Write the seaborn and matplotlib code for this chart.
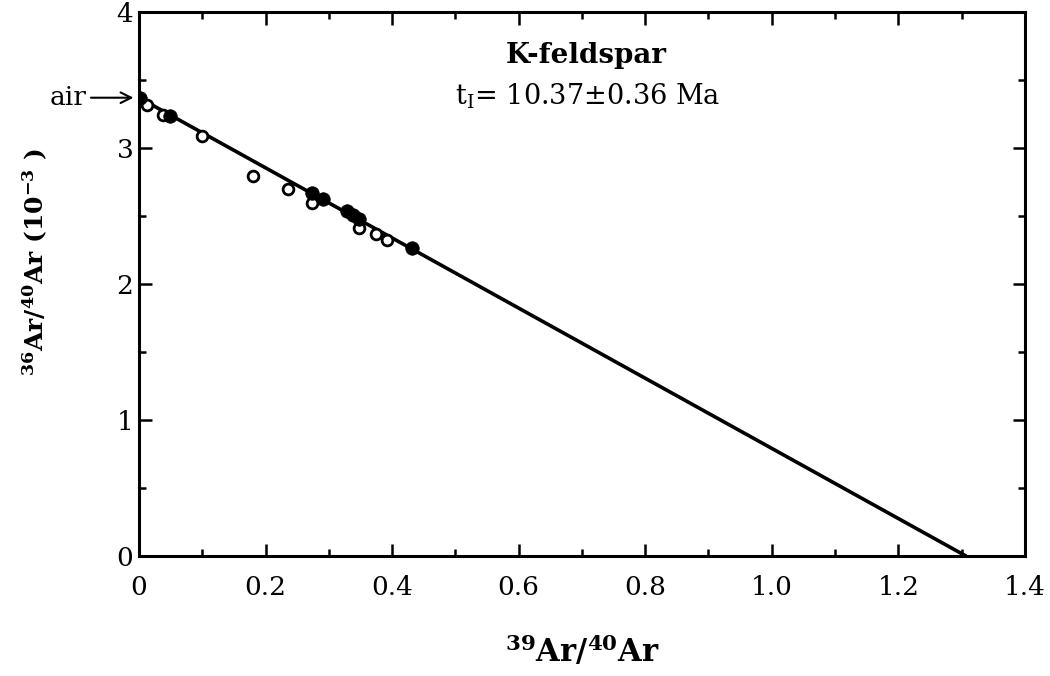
import numpy as np
import pandas as pd
import matplotlib
matplotlib.use("Agg")
import matplotlib.pyplot as plt
import seaborn as sns

# filled circles (39Ar/40Ar, 36Ar/40Ar x 1e-3)
filled_x = [0.002, 0.049, 0.273, 0.291, 0.328, 0.338, 0.347, 0.431]
filled_y = [3.367, 3.238, 2.671, 2.622, 2.537, 2.505, 2.476, 2.268]
# open circles
open_x = [0.012, 0.038, 0.099, 0.180, 0.236, 0.273, 0.347, 0.375, 0.392]
open_y = [3.314, 3.245, 3.086, 2.793, 2.700, 2.597, 2.414, 2.370, 2.322]
# isochron: y-intercept (air) and x-intercept
fit_x = [0.0, 1.307]
fit_y = [3.37, 0.0]

sns.set_theme(style="ticks")
plt.rcParams["font.family"] = ["DejaVu Serif"]
plt.rcParams["mathtext.fontset"] = "dejavuserif"
plt.rcParams["mathtext.default"] = "bf"
plt.rcParams["text.color"] = "black"
plt.rcParams["axes.labelcolor"] = "black"

fig = plt.figure(figsize=(10.5, 6.76), dpi=100)
ax = fig.add_axes([0.1324, 0.1775, 0.8436, 0.8047])

fit = pd.DataFrame({"x": fit_x, "y": fit_y})
sns.lineplot(data=fit, x="x", y="y", color="black", lw=2.6, ax=ax)

filled = pd.DataFrame({"x": filled_x, "y": filled_y})
opn = pd.DataFrame({"x": open_x, "y": open_y})
sns.scatterplot(data=opn, x="x", y="y", s=60, facecolor="white",
                edgecolor="black", linewidth=2.0, ax=ax, zorder=3)
sns.scatterplot(data=filled, x="x", y="y", s=95, color="black",
                edgecolor="black", linewidth=0.5, ax=ax, zorder=4)

ax.set_xlim(0, 1.4)
ax.set_ylim(0, 4)
ax.set_xticks([0, 0.2, 0.4, 0.6, 0.8, 1.0, 1.2, 1.4])
ax.set_xticklabels(["0", "0.2", "0.4", "0.6", "0.8", "1.0", "1.2", "1.4"])
ax.set_yticks([0, 1, 2, 3, 4])
ax.set_xticks(np.arange(0.1, 1.4, 0.2), minor=True)
ax.set_yticks([0.5, 1.5, 2.5, 3.5], minor=True)
ax.tick_params(which="both", direction="in", top=True, right=True,
               width=1.8, labelsize=19, colors="black")
ax.tick_params(which="major", length=9)
ax.tick_params(which="minor", length=5)
ax.tick_params(axis="x", pad=14)
ax.tick_params(axis="y", pad=4)
for s in ax.spines.values():
    s.set_linewidth(2.2)
    s.set_color("black")

ax.set_xlabel("$^{39}$Ar/$^{40}$Ar", fontsize=22, fontweight="bold", labelpad=24)
ax.set_ylabel("$^{36}$Ar/$^{40}$Ar (10$^{-3}$ )", fontsize=18, fontweight="bold")
ax.yaxis.set_label_coords(-0.10, 0.54)

ax.text(0.505, 0.92, "K-feldspar", transform=ax.transAxes, ha="center",
        va="center", fontsize=20, fontweight="bold")
ax.text(0.357, 0.845, r"t$_{\mathrm{I}}$= 10.37$\mathrm{\pm}$0.36 Ma",
        transform=ax.transAxes, ha="left", va="center", fontsize=19.5)

ax.annotate("air", xy=(0, 3.37), xytext=(-38, 0), textcoords="offset points",
            ha="right", va="center", fontsize=19, annotation_clip=False,
            arrowprops=dict(arrowstyle="->", color="black", lw=1.5,
                            shrinkA=1, shrinkB=4))

fig.savefig("out.png", dpi=100)
